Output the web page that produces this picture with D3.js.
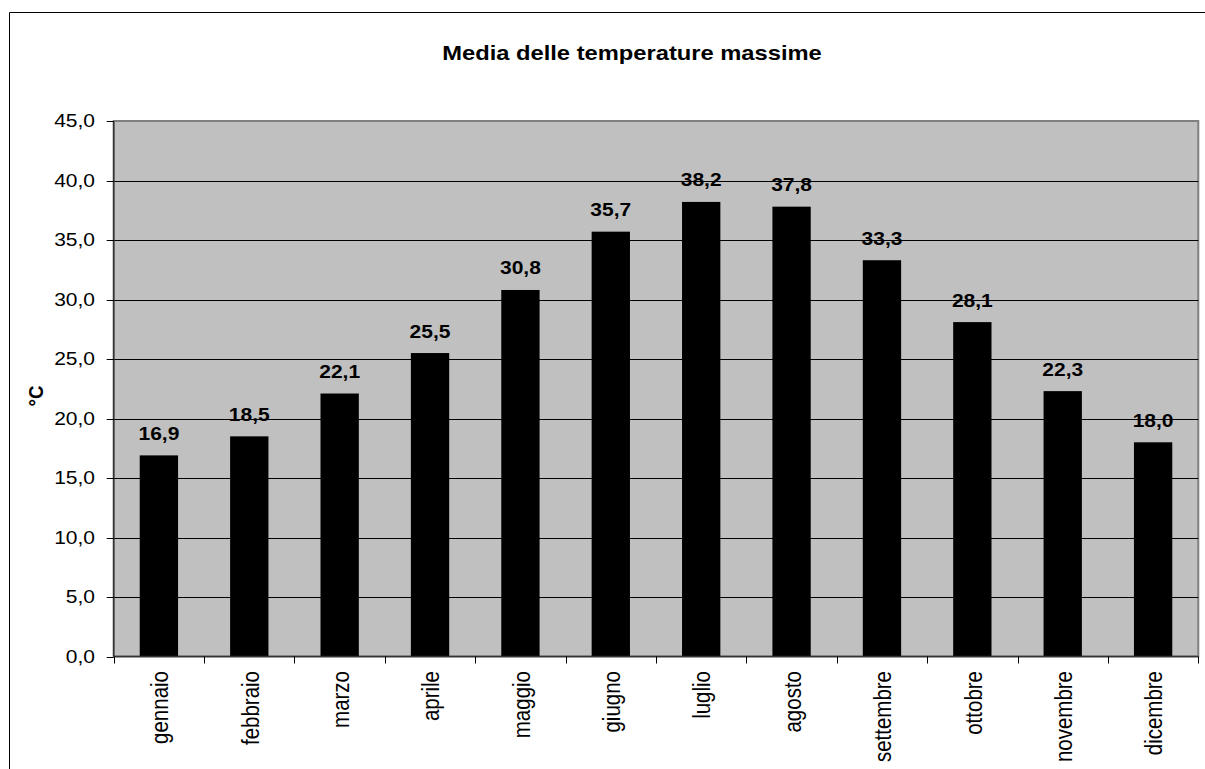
<!DOCTYPE html>
<html>
<head>
<meta charset="utf-8">
<script src="https://cdn.jsdelivr.net/npm/d3@7"></script>
<style>
  html, body { margin: 0; padding: 0; background: #fff; overflow: hidden; }
  svg { display: block; font-family: Arial, "Liberation Sans", sans-serif; }
</style>
</head>
<body>
<svg id="chart" width="1205" height="769"></svg>
<script>
// Monthly averages of maximum temperature (°C)
const months = ["gennaio", "febbraio", "marzo", "aprile", "maggio", "giugno",
                "luglio", "agosto", "settembre", "ottobre", "novembre", "dicembre"];
const tempMax = [16.9, 18.5, 22.1, 25.5, 30.8, 35.7, 38.2, 37.8, 33.3, 28.1, 22.3, 18.0];
const yTicks = [0, 5, 10, 15, 20, 25, 30, 35, 40, 45];
const titleText = "Media delle temperature massime";
const yAxisTitle = "°C";

const svg = d3.select("#chart");
const plot = { left: 113.7, right: 1198.3, top: 121, bottom: 656.5 };
const sx = 1.13; // horizontal glyph stretch
const fmt = v => v.toFixed(1).replace(".", ",");

const x = d3.scaleBand().domain(months).range([plot.left, plot.right]).padding(0);
const y = d3.scaleLinear().domain([0, 45]).range([plot.bottom, plot.top]);
const barFrac = 0.424;

// chart frame (left and top edges fall inside the page)
svg.append("path")
  .attr("d", "M9.5,769 L9.5,12.5 L1205,12.5")
  .attr("fill", "none").attr("stroke", "#000").attr("stroke-width", 1);

// title
svg.append("text")
  .attr("transform", `translate(632,60) scale(${sx},1)`)
  .attr("text-anchor", "middle")
  .attr("font-size", 21).attr("font-weight", "bold")
  .text(titleText);

// plot background
svg.append("rect")
  .attr("x", plot.left).attr("y", plot.top)
  .attr("width", plot.right - plot.left).attr("height", plot.bottom - plot.top)
  .attr("fill", "#c0c0c0").attr("stroke", "#808080").attr("stroke-width", 2);

// gridlines
svg.append("g").selectAll("line")
  .data(yTicks.filter(t => t > 0 && t < 45))
  .join("line")
  .attr("x1", plot.left).attr("x2", plot.right)
  .attr("y1", d => Math.round(y(d)) + 0.5).attr("y2", d => Math.round(y(d)) + 0.5)
  .attr("stroke", "#000").attr("stroke-width", 1);

// bars
svg.append("g").selectAll("rect")
  .data(tempMax)
  .join("rect")
  .attr("x", (d, i) => x(months[i]) + x.bandwidth() * (1 - barFrac) / 2)
  .attr("width", x.bandwidth() * barFrac)
  .attr("y", d => y(d))
  .attr("height", d => y(0) - y(d))
  .attr("fill", "#000");

// value labels
svg.append("g").selectAll("text")
  .data(tempMax)
  .join("text")
  .attr("transform", (d, i) =>
    `translate(${x(months[i]) + x.bandwidth() / 2},${y(d) - 15.5}) scale(${sx},1)`)
  .attr("text-anchor", "middle")
  .attr("font-size", 18.6).attr("font-weight", "bold")
  .text(d => fmt(d));

// y axis
const yAxis = svg.append("g");
yAxis.append("line")
  .attr("x1", plot.left).attr("x2", plot.left)
  .attr("y1", plot.top).attr("y2", plot.bottom)
  .attr("stroke", "#333").attr("stroke-width", 1.5);
yAxis.selectAll("line.tick")
  .data(yTicks).join("line").attr("class", "tick")
  .attr("x1", plot.left - 7).attr("x2", plot.left)
  .attr("y1", d => Math.round(y(d)) + 0.5).attr("y2", d => Math.round(y(d)) + 0.5)
  .attr("stroke", "#000");
yAxis.selectAll("text")
  .data(yTicks).join("text")
  .attr("transform", d => `translate(95,${y(d)}) scale(${sx},1)`)
  .attr("dy", "0.34em")
  .attr("text-anchor", "end")
  .attr("font-size", 18.6)
  .text(d => fmt(d));

// y axis title
svg.append("text")
  .attr("transform", `translate(36,396) scale(${sx},1) rotate(-90)`)
  .attr("dy", "0.35em")
  .attr("text-anchor", "middle")
  .attr("font-size", 18.6).attr("font-weight", "bold")
  .text(yAxisTitle);

// x axis
const xAxis = svg.append("g");
xAxis.append("line")
  .attr("x1", plot.left).attr("x2", plot.right)
  .attr("y1", plot.bottom).attr("y2", plot.bottom)
  .attr("stroke", "#333").attr("stroke-width", 1.5);
const boundaries = months.map(m => x(m)).concat([plot.right]);
xAxis.selectAll("line.tick")
  .data(boundaries).join("line").attr("class", "tick")
  .attr("x1", d => Math.round(d) + 0.5).attr("x2", d => Math.round(d) + 0.5)
  .attr("y1", plot.bottom).attr("y2", plot.bottom + 7)
  .attr("stroke", "#000");
xAxis.selectAll("text")
  .data(months).join("text")
  .attr("transform", d =>
    `translate(${x(d) + x.bandwidth() / 2},671) scale(${sx},1) rotate(-90)`)
  .attr("dy", "0.4em")
  .attr("text-anchor", "end")
  .attr("font-size", 20.5)
  .text(d => d);
</script>
</body>
</html>
